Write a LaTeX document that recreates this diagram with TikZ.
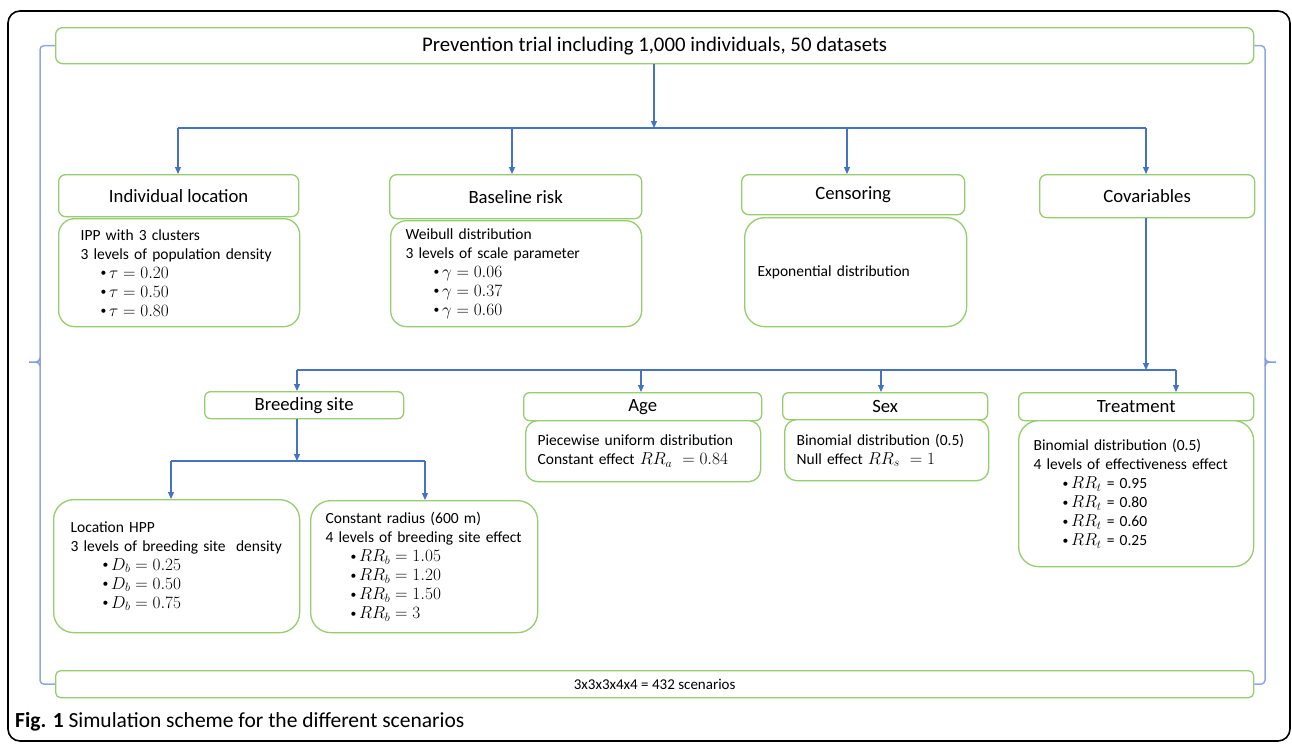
\documentclass[tikz,border=0pt]{standalone}
\usepackage{fontspec}
\setmainfont{Carlito}
\usetikzlibrary{arrows.meta}
\definecolor{gbox}{RGB}{150,205,110}
\definecolor{cblue}{RGB}{68,114,196}
\definecolor{lblue}{RGB}{142,169,225}
\newcommand\bodyf{\fontsize{15.5}{19}\selectfont}
\newcommand\titlef{\fontsize{18.7}{22}\selectfont}
\newcommand\bul{\raisebox{0.2ex}{\scalebox{0.75}{\textbullet}}\,}
\newcommand\mth[1]{{\fontsize{17.5}{19}\selectfont$#1$}}
\begin{document}
\begin{tikzpicture}[x=1pt,y=-1pt,
  tbox/.style={draw=gbox, line width=1.3pt, rounded corners=7pt, fill=white, inner sep=0pt, anchor=north west, font=\titlef},
  bbox/.style={draw=gbox, line width=1.3pt, rounded corners=16pt, fill=white, inner ysep=0pt, anchor=north west, align=left, font=\bodyf},
  conn/.style={draw=cblue, line width=1.1pt, -{Triangle[length=7pt,width=6pt]}},
  plain/.style={draw=cblue, line width=1.1pt},
  brk/.style={draw=lblue, line width=1.5pt, rounded corners=4pt},
  tick/.style={draw=lblue!80!cblue, line width=1.5pt},
  frame/.style={draw=black, line width=1.6pt, rounded corners=12pt}]
\useasboundingbox (0,0) rectangle (1292,745);
\fill[white] (0,0) rectangle (1292,745);
\draw[frame] (8,11) rectangle (1290,741);

% top and bottom
\node[tbox, minimum width=1198pt, minimum height=36pt, font=\fontsize{20.8}{24}\selectfont] (top) at (55,27) {Prevention trial including 1,000 individuals, 50 datasets};
\node[tbox, rounded corners=5pt, minimum width=1198pt, minimum height=27pt, font=\fontsize{15}{18}\selectfont] (bot) at (55,670) {3x3x3x4x4 = 432 scenarios};

% row 1 titles
\node[tbox, minimum width=240pt, minimum height=42pt] (indiv) at (58,174) {Individual location};
\node[tbox, minimum width=252pt, minimum height=44pt] (base) at (389,174) {Baseline risk};
\node[tbox, minimum width=223pt, minimum height=40pt] (cens) at (741,174) {Censoring};
\node[tbox, minimum width=215pt, minimum height=43pt] (cov) at (1039,174) {Covariables};

% row 1 bodies
\node[bbox, minimum width=241pt, minimum height=108pt, inner xsep=22pt, text width=197pt] (ipp) at (58,218) {IPP with 3 clusters\\3 levels of population density\\\hspace*{20pt}\bul\mth{\tau = 0.20}\\\hspace*{20pt}\bul\mth{\tau = 0.50}\\\hspace*{20pt}\bul\mth{\tau = 0.80}};
\node[bbox, minimum width=251pt, minimum height=106pt, inner xsep=15pt, text width=221pt] (weib) at (390,220) {Weibull distribution\\3 levels of scale parameter\\\hspace*{28pt}\bul\mth{\gamma = 0.06}\\\hspace*{28pt}\bul\mth{\gamma = 0.37}\\\hspace*{28pt}\bul\mth{\gamma = 0.60}};
\node[bbox, rounded corners=20pt, minimum width=222pt, minimum height=109pt, inner xsep=13pt, text width=196pt] (expo) at (744,217) {Exponential distribution};

% row 2 titles
\node[tbox, rounded corners=6pt, minimum width=199pt, minimum height=27pt] (breed) at (204,391) {Breeding site};
\node[tbox, rounded corners=6pt, minimum width=238pt, minimum height=28pt] (age) at (523,392) {Age};
\node[tbox, rounded corners=6pt, minimum width=205pt, minimum height=27pt] (sex) at (782,392) {Sex};
\node[tbox, rounded corners=6pt, minimum width=235pt, minimum height=28pt] (treat) at (1018,392) {Treatment};

% row 2 bodies
\node[bbox, rounded corners=12pt, minimum width=235pt, minimum height=61pt, inner xsep=12pt, text width=211pt] (ageb) at (525,420) {Piecewise uniform distribution\\Constant effect \mth{RR_a\ = 0.84}};
\node[bbox, rounded corners=12pt, minimum width=204pt, minimum height=61pt, inner xsep=12pt, text width=180pt] (sexb) at (784,419) {Binomial distribution (0.5)\\Null effect \mth{RR_s\ = 1}};
\node[bbox, rounded corners=20pt, minimum width=235pt, minimum height=146pt, inner xsep=15pt, text width=205pt] (treatb) at (1018,420) {Binomial distribution (0.5)\\4 levels of effectiveness effect\\\hspace*{29pt}\bul\mth{RR_t} = 0.95\\\hspace*{29pt}\bul\mth{RR_t} = 0.80\\\hspace*{29pt}\bul\mth{RR_t} = 0.60\\\hspace*{29pt}\bul\mth{RR_t} = 0.25};
\node[bbox, rounded corners=20pt, minimum width=246pt, minimum height=133pt, inner xsep=17pt, text width=212pt] (hpp) at (53,499) {Location HPP\\3 levels of breeding site\ \ density\\\hspace*{32pt}\bul\mth{D_b = 0.25}\\\hspace*{32pt}\bul\mth{D_b = 0.50}\\\hspace*{32pt}\bul\mth{D_b = 0.75}};
\node[bbox, rounded corners=20pt, minimum width=227pt, minimum height=132pt, inner xsep=15pt, text width=197pt] (rad) at (310,500) {Constant radius (600 m)\\4 levels of breeding site effect\\\hspace*{25pt}\bul\mth{RR_b = 1.05}\\\hspace*{25pt}\bul\mth{RR_b = 1.20}\\\hspace*{25pt}\bul\mth{RR_b = 1.50}\\\hspace*{25pt}\bul\mth{RR_b = 3}};

% hubs
\coordinate (h1) at (654,128);
\coordinate (h1L) at (178,128);
\coordinate (h1R) at (1146,128);
\coordinate (a1) at (178,128);
\coordinate (a2) at (512,128);
\coordinate (a3) at (847,128);
\coordinate (a4) at (1146,128);
\draw[conn] (top.south -| h1) -- (h1);
\draw[plain] (h1L) -- (h1R);
\draw[conn] (a1) -- (a1 |- indiv.north);
\draw[conn] (a2) -- (a2 |- base.north);
\draw[conn] (a3) -- (a3 |- cens.north);
\draw[conn] (a4) -- (a4 |- cov.north);

\coordinate (h2) at (1146,370);
\coordinate (b1) at (297,370);
\coordinate (b2) at (641,370);
\coordinate (b3) at (881,370);
\coordinate (b4) at (1176,370);
\draw[conn] (cov.south -| h2) -- (h2);
\draw[plain] (b1) -- (b4);
\draw[conn] (b1) -- (b1 |- breed.north);
\draw[conn] (b2) -- (b2 |- age.north);
\draw[conn] (b3) -- (b3 |- sex.north);
\draw[conn] (b4) -- (b4 |- treat.north);

\coordinate (h3) at (297,461);
\coordinate (c1) at (171,461);
\coordinate (c2) at (425,461);
\draw[conn] (breed.south -| h3) -- (h3);
\draw[plain] (c1) -- (c2);
\draw[conn] (c1) -- (c1 |- hpp.north);
\draw[conn] (c2) -- (c2 |- rad.north);

% brackets
\coordinate (lx) at (40,362);
\coordinate (rx) at (1265,362);
\draw[brk] (top.west) -- (top.west -| lx) -- (bot.west -| lx) -- (bot.west);
\draw[brk] (top.east) -- (top.east -| rx) -- (bot.east -| rx) -- (bot.east);
\draw[tick] (40,358) to[out=-90,in=0] (36,362) -- (29,362);
\draw[tick] (36,362) to[out=0,in=90] (40,366);
\draw[tick] (1265,358) to[out=-90,in=180] (1269,362) -- (1276,362);
\draw[tick] (1269,362) to[out=180,in=90] (1265,366);

% caption
\node[anchor=west, inner sep=0pt, font=\fontsize{21.5}{24}\selectfont] (cap) at (15,722) {\textbf{Fig. 1} Simulation scheme for the different scenarios};
\end{tikzpicture}
\end{document}
